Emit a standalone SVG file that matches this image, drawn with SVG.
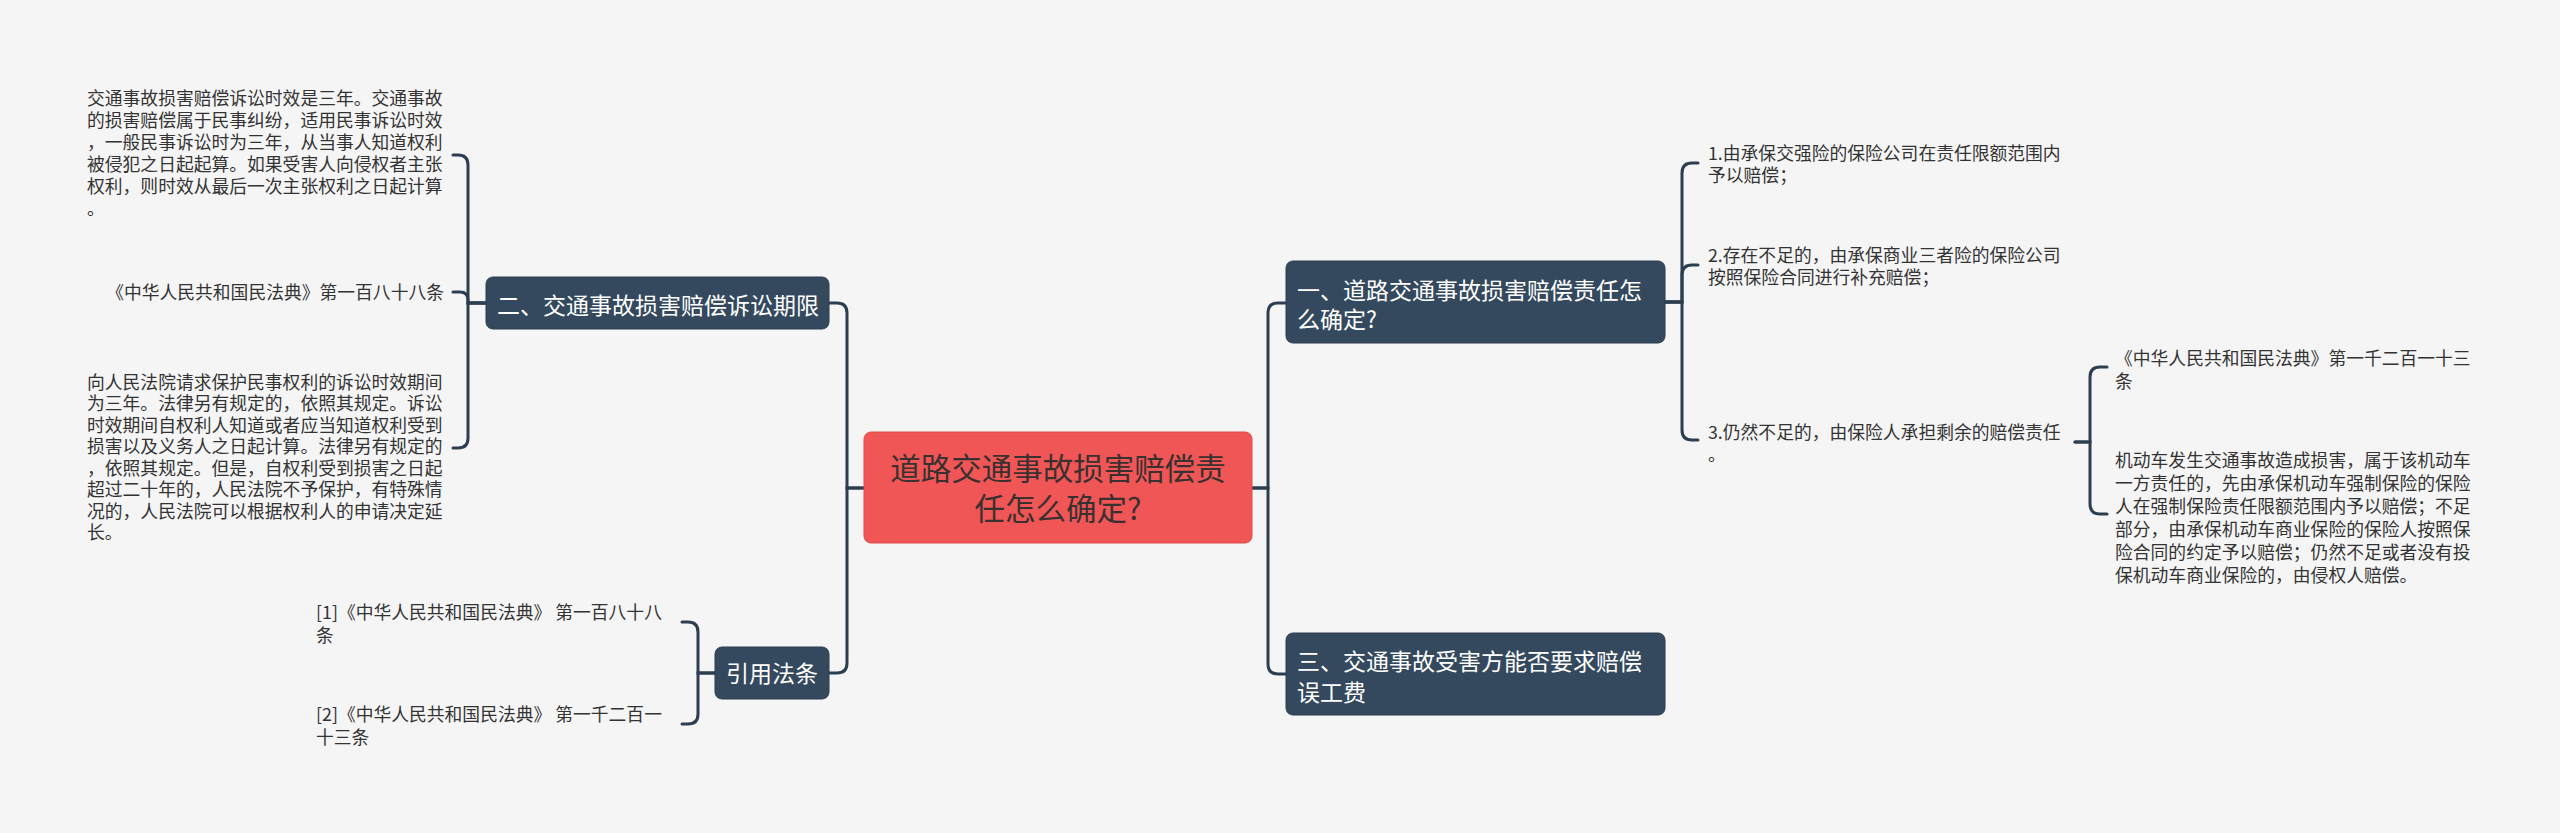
<svg xmlns="http://www.w3.org/2000/svg" width="2560" height="833" viewBox="0 0 2560 833">
<style>
.bg{fill:#f5f5f5}
.link{fill:none;stroke:#2c3e50;stroke-width:3;stroke-linecap:round}
.sub{fill:#34495e;stroke:#2b3d4f;stroke-width:1}
.root{fill:#f05656;stroke:#e04a4a;stroke-width:1}
.t{font-family:"Noto Sans CJK SC","Noto Sans",sans-serif}
.leaf{font-size:17.8px;fill:#333333}
.nt{font-size:23px;fill:#ffffff}
.rt{font-size:30.5px;fill:#3a3030}
</style>
<rect class="bg" x="0" y="0" width="2560" height="833"/>
<g id="connectors">
<path class="link" d="M864 488 H847 V313 Q847 303 837 303 H829"/>
<path class="link" d="M864 488 H847 V663 Q847 673 837 673 H829"/>
<path class="link" d="M1252 488 H1268 V313 Q1268 303 1278 303 H1286"/>
<path class="link" d="M1252 488 H1268 V664 Q1268 674 1278 674 H1286"/>
<path class="link" d="M486 303 H468 V165 Q468 155 458 155 H453"/>
<path class="link" d="M486 303 H468 V300 Q468 292 460 292 H453"/>
<path class="link" d="M486 303 H468 V438 Q468 448 458 448 H453"/>
<path class="link" d="M715 673 H698 V632 Q698 622 688 622 H682"/>
<path class="link" d="M715 673 H698 V714 Q698 724 688 724 H682"/>
<path class="link" d="M1665 302 H1682 V173 Q1682 163 1692 163 H1698"/>
<path class="link" d="M1665 302 H1682 V275 Q1682 265 1692 265 H1698"/>
<path class="link" d="M1665 302 H1682 V430 Q1682 440 1692 440 H1698"/>
<path class="link" d="M2075 442 H2090 V377 Q2090 367 2100 367 H2107"/>
<path class="link" d="M2075 442 H2090 V504 Q2090 514 2100 514 H2107"/>
</g>
<g id="root">
<rect class="root" x="864" y="432" width="388" height="111" rx="7"/>
<text class="t rt" x="1058" y="480" text-anchor="middle">道路交通事故损害赔偿责</text>
<text class="t rt" x="1058" y="520" text-anchor="middle">任怎么确定?</text>
</g>
<g id="node-er">
<rect class="sub" x="486" y="277" width="343" height="52" rx="7"/>
<text class="t nt" x="497" y="314">二、交通事故损害赔偿诉讼期限</text>
</g>
<g id="node-yinyong">
<rect class="sub" x="715" y="647" width="114" height="52" rx="7"/>
<text class="t nt" x="772" y="682" text-anchor="middle">引用法条</text>
</g>
<g id="node-yi">
<rect class="sub" x="1286" y="261" width="379" height="82" rx="7"/>
<text class="t nt" x="1297" y="299">一、道路交通事故损害赔偿责任怎</text>
<text class="t nt" x="1297" y="328">么确定?</text>
</g>
<g id="node-san">
<rect class="sub" x="1286" y="633" width="379" height="82" rx="7"/>
<text class="t nt" x="1297" y="670">三、交通事故受害方能否要求赔偿</text>
<text class="t nt" x="1297" y="701">误工费</text>
</g>
<g id="leaf-l1">
<text class="t leaf" x="87" y="104.5">交通事故损害赔偿诉讼时效是三年。交通事故</text>
<text class="t leaf" x="87" y="126.5">的损害赔偿属于民事纠纷，适用民事诉讼时效</text>
<text class="t leaf" x="87" y="148.5">，一般民事诉讼时为三年，从当事人知道权利</text>
<text class="t leaf" x="87" y="170.5">被侵犯之日起起算。如果受害人向侵权者主张</text>
<text class="t leaf" x="87" y="192.5">权利，则时效从最后一次主张权利之日起计算</text>
<text class="t leaf" x="87" y="214.5">。</text>
</g>
<g id="leaf-l2">
<text class="t leaf" x="444" y="298.5" text-anchor="end">《中华人民共和国民法典》第一百八十八条</text>
</g>
<g id="leaf-l3">
<text class="t leaf" x="87" y="388.5">向人民法院请求保护民事权利的诉讼时效期间</text>
<text class="t leaf" x="87" y="410">为三年。法律另有规定的，依照其规定。诉讼</text>
<text class="t leaf" x="87" y="431.5">时效期间自权利人知道或者应当知道权利受到</text>
<text class="t leaf" x="87" y="453">损害以及义务人之日起计算。法律另有规定的</text>
<text class="t leaf" x="87" y="474.5">，依照其规定。但是，自权利受到损害之日起</text>
<text class="t leaf" x="87" y="496">超过二十年的，人民法院不予保护，有特殊情</text>
<text class="t leaf" x="87" y="517.5">况的，人民法院可以根据权利人的申请决定延</text>
<text class="t leaf" x="87" y="539">长。</text>
</g>
<g id="ref-1">
<text class="t leaf" x="316" y="618.5">[1]《中华人民共和国民法典》 第一百八十八</text>
<text class="t leaf" x="316" y="641.5">条</text>
</g>
<g id="ref-2">
<text class="t leaf" x="316" y="720.5">[2]《中华人民共和国民法典》 第一千二百一</text>
<text class="t leaf" x="316" y="743.5">十三条</text>
</g>
<g id="leaf-r1">
<text class="t leaf" x="1708" y="159.5">1.由承保交强险的保险公司在责任限额范围内</text>
<text class="t leaf" x="1708" y="182">予以赔偿；</text>
</g>
<g id="leaf-r2">
<text class="t leaf" x="1708" y="261.5">2.存在不足的，由承保商业三者险的保险公司</text>
<text class="t leaf" x="1708" y="284">按照保险合同进行补充赔偿；</text>
</g>
<g id="leaf-r3">
<text class="t leaf" x="1708" y="438.5">3.仍然不足的，由保险人承担剩余的赔偿责任</text>
<text class="t leaf" x="1708" y="461">。</text>
</g>
<g id="leaf-r3a">
<text class="t leaf" x="2115" y="364.5">《中华人民共和国民法典》第一千二百一十三</text>
<text class="t leaf" x="2115" y="387.5">条</text>
</g>
<g id="leaf-r3b">
<text class="t leaf" x="2115" y="466.5">机动车发生交通事故造成损害，属于该机动车</text>
<text class="t leaf" x="2115" y="489.5">一方责任的，先由承保机动车强制保险的保险</text>
<text class="t leaf" x="2115" y="512.5">人在强制保险责任限额范围内予以赔偿；不足</text>
<text class="t leaf" x="2115" y="535.5">部分，由承保机动车商业保险的保险人按照保</text>
<text class="t leaf" x="2115" y="558.5">险合同的约定予以赔偿；仍然不足或者没有投</text>
<text class="t leaf" x="2115" y="581.5">保机动车商业保险的，由侵权人赔偿。</text>
</g>
</svg>
